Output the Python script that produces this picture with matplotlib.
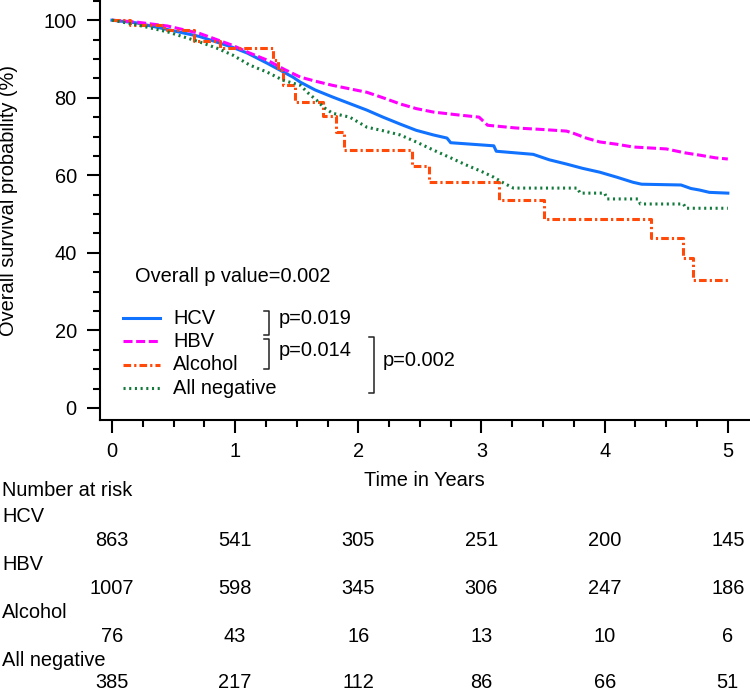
import matplotlib
matplotlib.use("Agg")
import matplotlib.pyplot as plt
from matplotlib.lines import Line2D
from matplotlib.transforms import blended_transform_factory
from matplotlib.ticker import MultipleLocator

plt.rcParams['font.family'] = ['Liberation Sans', 'DejaVu Sans']
plt.rcParams['lines.scale_dashes'] = False

# ---------------- data ----------------
groups = ["HCV", "HBV", "Alcohol", "All negative"]

hcv_t = [0, 0.2, 0.45, 0.71, 0.98, 1.1, 1.26, 1.4, 1.47, 1.53, 1.65, 1.79, 1.93, 2.07, 2.2, 2.34,
         2.47, 2.61, 2.72, 2.75, 3.1, 3.12, 3.42, 3.55, 3.69, 3.82, 3.96, 4.1, 4.23, 4.3, 4.62,
         4.7, 4.77, 4.85, 5.0]
hcv_s = [100, 99.3, 97.6, 95.8, 93.0, 91.5, 88.9, 86.5, 85.3, 84.0, 82.0, 80.2, 78.5, 76.8, 75.0, 73.2,
         71.6, 70.4, 69.6, 68.4, 67.6, 66.2, 65.4, 64.0, 62.9, 61.8, 60.8, 59.5, 58.2, 57.7, 57.5,
         56.6, 56.2, 55.6, 55.4]

hbv_t = [0, 0.2, 0.45, 0.71, 0.98, 1.12, 1.26, 1.4, 1.53, 1.66, 1.79, 1.93, 2.07, 2.2, 2.34, 2.47,
         2.61, 2.8, 2.98, 3.05, 3.28, 3.5, 3.69, 3.75, 3.85, 3.96, 4.1, 4.23, 4.5, 4.65, 4.77, 4.9, 5.0]
hbv_s = [100, 99.5, 98.5, 96.6, 93.5, 91.5, 89.7, 87.3, 85.3, 84.2, 83.2, 82.3, 81.4, 80.0, 78.4, 77.2,
         76.3, 75.6, 75.0, 72.9, 72.2, 71.8, 71.4, 70.8, 69.6, 68.6, 68.0, 67.3, 66.8, 65.8, 65.2, 64.5, 64.2]

alc_t = [0, 0.15, 0.42, 0.67, 0.88, 1.31, 1.35, 1.39, 1.49, 1.71, 1.82, 1.88, 2.44, 2.57, 3.14,
         3.51, 4.38, 4.64, 4.72, 5.0]
alc_s = [100, 98.7, 97.4, 94.5, 92.8, 89.7, 87.1, 83.2, 78.9, 75.3, 71.1, 66.5, 62.4, 58.2, 53.6,
         48.7, 43.8, 38.7, 33.0, 33.0]

neg_t = [0, 0.2, 0.45, 0.71, 0.85, 0.98, 1.12, 1.26, 1.39, 1.53, 1.6, 1.66, 1.72, 1.79, 1.93, 2.07,
         2.2, 2.34, 2.47, 2.61, 2.75, 2.88, 3.0, 3.10, 3.18, 3.26, 3.78, 3.80, 4.0, 4.02, 4.27, 4.29,
         4.64, 4.66, 5.0]
neg_s = [100, 98.8, 97.0, 94.4, 92.8, 91.0, 88.4, 86.6, 84.5, 83.2, 81.0, 79.4, 77.5, 76.0, 75.0, 72.4,
         71.5, 70.4, 68.6, 66.5, 64.5, 62.6, 61.0, 59.5, 58.0, 56.7, 56.7, 55.4, 55.4, 53.9, 53.9, 52.6,
         52.6, 51.5, 51.5]

risk_times = [0, 1, 2, 3, 4, 5]
risk_hcv = [863, 541, 305, 251, 200, 145]
risk_hbv = [1007, 598, 345, 306, 247, 186]
risk_alc = [76, 43, 16, 13, 10, 6]
risk_neg = [385, 217, 112, 86, 66, 51]

pair_pvalues = ["p=0.019", "p=0.014", "p=0.002"]
overall_p = "Overall p value=0.002"

# ---------------- styles ----------------
colors = ["#1172ff", "#ff00ff", "#ff4a0a", "#137a3c"]
styles = ["-", (0, (6.5, 2.6)), (0, (5.5, 2.2, 1.6, 2.2)), (0, (1.5, 2.6))]
drawstyles = ["default", "default", "steps-post", "default"]
LW = 2.2
FS = 14.4

W, H = 750, 694
fig = plt.figure(figsize=(W / 100, H / 100), dpi=100)


def fx(px):
    return px / W


def fy(py):
    return 1 - py / H


ax = fig.add_axes([fx(100), fy(420), 650 / W, 420 / H])
ax.set_xlim(-0.097, 5.18)
ax.set_ylim(-3.1, 105.2)

series_t = [hcv_t, hbv_t, alc_t, neg_t]
series_s = [hcv_s, hbv_s, alc_s, neg_s]
for t, s, c, ls, ds in zip(series_t, series_s, colors, styles, drawstyles):
    ax.plot(t, s, drawstyle=ds, color=c, lw=LW, linestyle=ls)

for side in ["top", "right"]:
    ax.spines[side].set_visible(False)
for side in ["left", "bottom"]:
    ax.spines[side].set_linewidth(1.5)

ax.set_xticks(risk_times)
ax.set_yticks([0, 20, 40, 60, 80, 100])
ax.xaxis.set_minor_locator(MultipleLocator(0.25))
ax.yaxis.set_minor_locator(MultipleLocator(5))
ax.tick_params(which="major", direction="out", length=9.5, width=1.5, labelsize=FS)
ax.tick_params(which="minor", direction="out", length=5, width=1.5)
ax.tick_params(axis="y", which="major", pad=7.2)
ax.tick_params(axis="x", which="major", pad=6.5)

# axis titles
fig.text(fx(9), fy(201), "Overall survival probability (%)", rotation=90,
         ha="center", va="center", fontsize=FS)
fig.text(fx(424), fy(481), "Time in Years", ha="center", va="center", fontsize=FS)

# overall p
fig.text(fx(135), fy(277), overall_p, ha="left", va="center", fontsize=FS)

# legend
leg_rows = [318, 341, 365, 388]
for g, c, ls, ry in zip(groups, colors, styles, leg_rows):
    fig.add_artist(Line2D([fx(123), fx(160)], [fy(ry), fy(ry)], color=c, lw=LW,
                          linestyle=ls, transform=fig.transFigure))
    fig.text(fx(173), fy(ry), g, ha="left", va="center", fontsize=FS)

# brackets
brackets = [(269, 311, 335, 279, 318), (269, 339, 369, 279, 351), (374, 337, 393, 383, 360)]
for (bx, top, bot, tx, ty), ptxt in zip(brackets, pair_pvalues):
    fig.add_artist(Line2D([fx(bx - 5), fx(bx), fx(bx), fx(bx - 5)],
                          [fy(top), fy(top), fy(bot), fy(bot)],
                          color="#222222", lw=1.1, transform=fig.transFigure))
    fig.text(fx(tx), fy(ty), ptxt, ha="left", va="center", fontsize=FS)

# number at risk table
trans = blended_transform_factory(ax.transData, fig.transFigure)
fig.text(fx(2), fy(491), "Number at risk", ha="left", va="center", fontsize=FS)
label_rows = [516, 564, 612, 660]
num_rows = [540, 588, 636, 683]
risks = [risk_hcv, risk_hbv, risk_alc, risk_neg]
for g, ly, ny, r in zip(groups, label_rows, num_rows, risks):
    fig.text(fx(2), fy(ly), g, ha="left", va="center", fontsize=FS)
    for t, n in zip(risk_times, r):
        fig.text(t, fy(ny), str(n), ha="center", va="center", fontsize=FS, transform=trans)

fig.savefig("out.png", dpi=100)
